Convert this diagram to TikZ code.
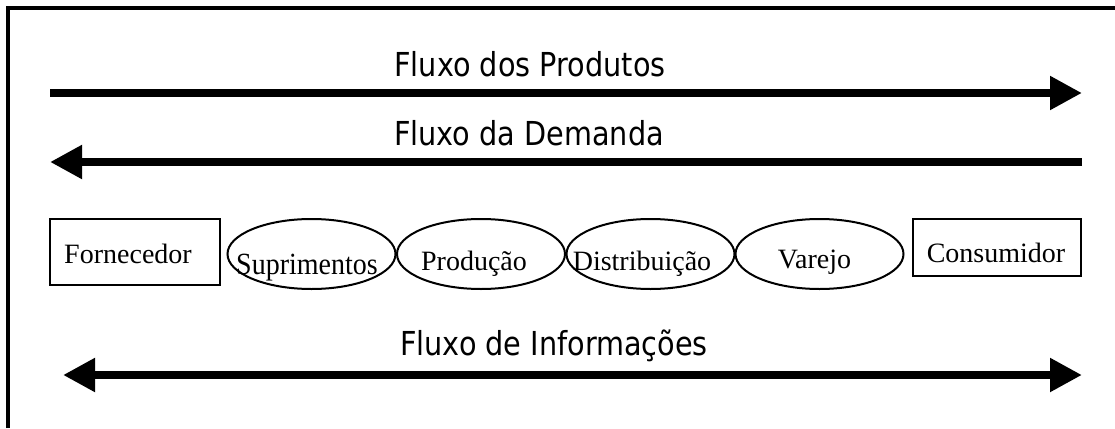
\documentclass[tikz,border=0pt]{standalone}
\usepackage{fontspec}
\usepackage{graphicx}
\setmainfont{Liberation Serif}
\newfontfamily\flowfont[FakeStretch=0.87]{DejaVu Sans}
\usetikzlibrary{arrows.meta,shapes.geometric}

\begin{document}
\begin{tikzpicture}[x=1pt,y=-1pt,
		flow/.style={line width=8pt,-{Triangle[length=32pt,width=32pt]}},
		flowboth/.style={line width=8pt,{Triangle[length=32pt,width=32pt]}-{Triangle[length=32pt,width=32pt]}},
		flowlabel/.style={anchor=base,inner sep=0pt,font=\flowfont\fontsize{33}{40}\selectfont},
		agent/.style={draw,line width=2pt,rectangle,inner sep=0pt},
		stage/.style={draw,line width=2pt,ellipse,minimum width=168pt,minimum height=70pt,inner sep=0pt},
		stagelabel/.style={anchor=base,inner sep=0pt,font=\fontsize{28}{34}\selectfont}]
			\useasboundingbox (0,0) rectangle (1115,428);
			\draw[line width=4pt] (8,428) -- (8,8) -- (1115,8);

			\coordinate (prodL) at (50,93);
			\coordinate (prodR) at (1082,93);
			\coordinate (demR) at (1082,162);
			\coordinate (demL) at (50,162);
			\coordinate (infL) at (63,375);
			\coordinate (infR) at (1082,375);

			\node[flowlabel] (prodT) at (530,76) {Fluxo dos Produtos};
			\node[flowlabel] (demT) at (529,145) {Fluxo da Demanda};
			\node[flowlabel] (infT) at (554,355) {Fluxo de Informações};

			\draw[flow] (prodL) -- (prodR);
			\draw[flow] (demR) -- (demL);
			\draw[flowboth] (infL) -- (infR);

			\node[agent,minimum width=170pt,minimum height=66pt] (forn) at (135,252) {};
			\node[stage] (sup) at (311.5,254) {};
			\node[stage] (prod) at (481,254) {};
			\node[stage] (dist) at (650.5,254) {};
			\node[stage] (var) at (819.5,254) {};
			\node[agent,minimum width=168pt,minimum height=57pt] (cons) at (997,247.5) {};

			\node[stagelabel] (fornT) at (128,263) {Fornecedor};
			\node[stagelabel] (supT) at (307,274) {\scalebox{1}[1.1]{Suprimentos}};
			\node[stagelabel] (prodS) at (474,270) {Produção};
			\node[stagelabel] (distT) at (642,270) {Distribuição};
			\node[stagelabel] (varT) at (814.5,268) {Varejo};
			\node[stagelabel] (consT) at (996,262) {Consumidor};
		\end{tikzpicture}
\end{document}
